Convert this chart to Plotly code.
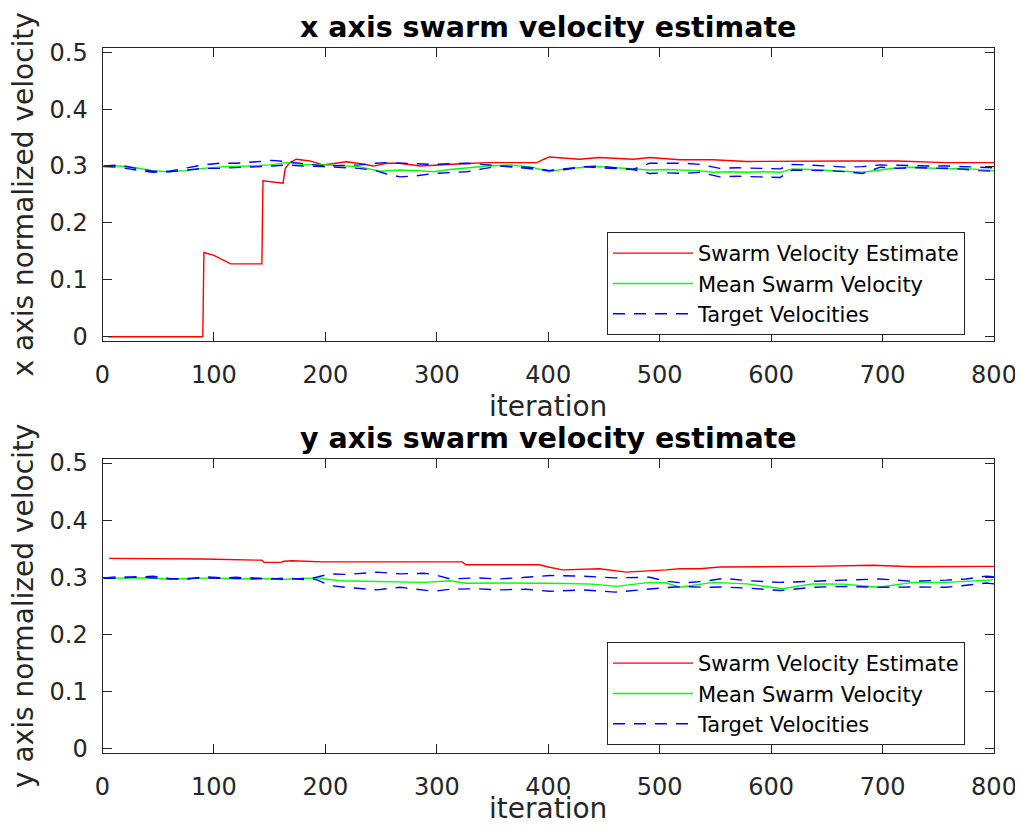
import plotly.graph_objects as go
from plotly.subplots import make_subplots

# ---------------- data ----------------
# top panel: x axis velocity
x_est_iter = [5, 90, 91, 100, 115, 143, 144, 162, 164, 168,
              174, 186, 198, 210, 219, 232, 243, 255, 267, 285,
              300, 323, 345, 370, 390, 396, 401, 428, 446, 476,
              491, 518, 548, 578, 623, 668, 713, 757, 800]
x_est_val = [0, 0, 0.148, 0.143, 0.128, 0.128, 0.274, 0.270, 0.296, 0.306,
             0.312, 0.309, 0.302, 0.305, 0.3075, 0.304, 0.300, 0.305, 0.305, 0.300,
             0.302, 0.304, 0.306, 0.306, 0.306, 0.312, 0.316, 0.312, 0.315, 0.312,
             0.315, 0.311, 0.311, 0.308, 0.309, 0.309, 0.309, 0.306, 0.306]

x_mean_iter = [1, 15, 30, 45, 58, 75, 90, 110, 130, 150,
               165, 180, 200, 215, 230, 249, 267, 282, 297, 312,
               327, 345, 366, 385, 401, 415, 432, 446, 461, 476,
               491, 506, 521, 535, 548, 563, 578, 593, 608, 619,
               635, 652, 668, 682, 698, 713, 728, 743, 757, 772,
               786, 800]
x_mean_val = [0.300, 0.300, 0.297, 0.292, 0.290, 0.292, 0.296, 0.299, 0.300, 0.302,
              0.306, 0.303, 0.302, 0.301, 0.299, 0.291, 0.293, 0.292, 0.290, 0.294,
              0.297, 0.300, 0.302, 0.298, 0.290, 0.295, 0.298, 0.299, 0.297, 0.295,
              0.293, 0.294, 0.293, 0.292, 0.289, 0.290, 0.289, 0.290, 0.289, 0.295,
              0.294, 0.292, 0.291, 0.289, 0.293, 0.297, 0.298, 0.297, 0.295, 0.296,
              0.294, 0.292]

x_tgt_iter = [1, 15, 30, 45, 60, 75, 90, 105, 120, 135,
              152, 165, 180, 198, 215, 230, 245, 255, 267, 282,
              297, 312, 327, 341, 356, 371, 386, 401, 416, 432,
              446, 461, 476, 491, 506, 521, 536, 554, 570, 590,
              608, 619, 635, 652, 668, 682, 698, 713, 728, 743,
              760, 775, 786, 800]
x_tgt1_val = [0.300, 0.302, 0.296, 0.291, 0.291, 0.296, 0.302, 0.305, 0.305, 0.307,
              0.310, 0.308, 0.304, 0.300, 0.301, 0.302, 0.305, 0.306, 0.305, 0.304,
              0.303, 0.304, 0.305, 0.303, 0.300, 0.299, 0.297, 0.292, 0.296, 0.299,
              0.300, 0.297, 0.294, 0.305, 0.305, 0.305, 0.303, 0.296, 0.297, 0.296,
              0.295, 0.303, 0.302, 0.300, 0.298, 0.299, 0.302, 0.301, 0.300, 0.300,
              0.300, 0.299, 0.297, 0.297]
x_tgt2_val = [0.299, 0.298, 0.293, 0.289, 0.290, 0.293, 0.296, 0.296, 0.297, 0.299,
              0.300, 0.302, 0.300, 0.299, 0.298, 0.296, 0.292, 0.286, 0.281, 0.283,
              0.287, 0.289, 0.290, 0.295, 0.300, 0.298, 0.295, 0.292, 0.294, 0.299,
              0.297, 0.296, 0.294, 0.287, 0.288, 0.287, 0.289, 0.281, 0.282, 0.281,
              0.280, 0.293, 0.293, 0.292, 0.290, 0.287, 0.298, 0.296, 0.297, 0.297,
              0.296, 0.294, 0.292, 0.291]

# bottom panel: y axis velocity
y_est_iter = [6, 90, 138, 143, 145, 160, 163, 170, 198, 250,
              294, 323, 326, 392, 400, 413, 446, 470, 506, 518,
              536, 554, 637, 691, 727, 800]
y_est_val = [0.333, 0.332, 0.330, 0.330, 0.326, 0.326, 0.328, 0.329, 0.327, 0.327,
             0.326, 0.327, 0.322, 0.322, 0.318, 0.313, 0.315, 0.309, 0.313, 0.315,
             0.315, 0.318, 0.319, 0.321, 0.3185, 0.319]

y_mean_iter = [1, 20, 40, 60, 80, 100, 120, 140, 160, 180,
               192, 213, 240, 267, 288, 312, 326, 360, 390, 416,
               440, 461, 491, 506, 518, 548, 578, 610, 637, 665,
               697, 727, 757, 780, 799]
y_mean_val = [0.298, 0.298, 0.299, 0.297, 0.298, 0.299, 0.297, 0.298, 0.296, 0.298,
              0.299, 0.294, 0.293, 0.293, 0.291, 0.294, 0.2895, 0.290, 0.290, 0.289,
              0.288, 0.284, 0.291, 0.290, 0.2825, 0.291, 0.2885, 0.280, 0.2885, 0.288,
              0.2825, 0.291, 0.291, 0.293, 0.2955]

y_tgt_iter = [1, 15, 30, 45, 60, 75, 90, 105, 120, 135,
              150, 165, 180, 192, 204, 220, 246, 267, 288, 297,
              312, 335, 356, 380, 401, 431, 460, 491, 506, 521,
              540, 557, 580, 608, 637, 665, 697, 727, 757, 775,
              793, 800]
y_tgt1_val = [0.299, 0.301, 0.300, 0.302, 0.298, 0.296, 0.301, 0.300, 0.298, 0.299,
              0.297, 0.299, 0.296, 0.300, 0.306, 0.305, 0.309, 0.306, 0.307, 0.305,
              0.297, 0.299, 0.297, 0.300, 0.303, 0.302, 0.299, 0.300, 0.293, 0.290,
              0.293, 0.298, 0.294, 0.291, 0.2925, 0.295, 0.297, 0.293, 0.295, 0.297,
              0.302, 0.301]
y_tgt2_val = [0.298, 0.298, 0.301, 0.299, 0.297, 0.298, 0.299, 0.298, 0.300, 0.297,
              0.298, 0.296, 0.298, 0.296, 0.2855, 0.282, 0.278, 0.2825, 0.277, 0.2755,
              0.279, 0.280, 0.278, 0.279, 0.2755, 0.278, 0.274, 0.280, 0.282, 0.2837,
              0.2825, 0.283, 0.281, 0.2768, 0.2825, 0.284, 0.2825, 0.283, 0.2825, 0.286,
              0.290, 0.2885]

titles = ["x axis swarm velocity estimate", "y axis swarm velocity estimate"]
ylabels = ["x axis normalized velocity", "y axis normalized velocity"]
xlabel = "iteration"
legend_names = ["Swarm Velocity Estimate", "Mean Swarm Velocity", "Target Velocities"]
x_ticks = [0, 100, 200, 300, 400, 500, 600, 700, 800]
y_ticks = [0, 0.1, 0.2, 0.3, 0.4, 0.5]
y_tick_text = ["0", "0.1", "0.2", "0.3", "0.4", "0.5"]

# ---------------- figure ----------------
# the page keeps the browser's 8px body margin; the figure starts at (8, 8)
OFF = 8
W, H = 1015, 816
FONT = "DejaVu Sans"
AX = "#262626"


def px(x):
    return (x - OFF) / W


def py(y):
    return 1 - (y - OFF) / H


fig = make_subplots(rows=2, cols=1)

panels = [
    (x_est_iter, x_est_val, x_mean_iter, x_mean_val, x_tgt_iter, x_tgt1_val, x_tgt2_val, "legend"),
    (y_est_iter, y_est_val, y_mean_iter, y_mean_val, y_tgt_iter, y_tgt1_val, y_tgt2_val, "legend2"),
]
for i, (ei, ev, mi, mv, ti, t1, t2, lg) in enumerate(panels):
    r = i + 1
    fig.add_trace(go.Scatter(x=ei, y=ev, mode="lines", name=legend_names[0], legend=lg,
                             line=dict(color="#ff0000", width=1.4)), row=r, col=1)
    fig.add_trace(go.Scatter(x=mi, y=mv, mode="lines", name=legend_names[1], legend=lg,
                             line=dict(color="#00ff00", width=1.4)), row=r, col=1)
    fig.add_trace(go.Scatter(x=ti, y=t1, mode="lines", name=legend_names[2], legend=lg,
                             line=dict(color="#0000ff", width=1.4, dash="12px,9px")), row=r, col=1)
    fig.add_trace(go.Scatter(x=ti, y=t2, mode="lines", name=legend_names[2], legend=lg,
                             showlegend=False,
                             line=dict(color="#0000ff", width=1.4, dash="12px,9px")), row=r, col=1)

xdom = [px(102.5), px(994.0)]
ydoms = [[py(340.7), py(48.3)], [py(752.7), py(459.0)]]

axis_common = dict(
    showline=True, linecolor=AX, linewidth=1, mirror="ticks",
    ticks="inside", ticklen=9, tickwidth=1, tickcolor=AX,
    showgrid=False, zeroline=False, automargin=False, ticklabeloverflow="allow",
    tickfont=dict(family=FONT, size=24, color=AX),
)
for i in range(2):
    xa = "xaxis" if i == 0 else "xaxis2"
    ya = "yaxis" if i == 0 else "yaxis2"
    fig.layout[xa].update(domain=xdom, range=[0, 800], tickvals=x_ticks,
                          ticklabelstandoff=12, **axis_common)
    fig.layout[ya].update(domain=ydoms[i], range=[-0.007, 0.507], tickvals=y_ticks,
                          ticktext=y_tick_text, ticklabelstandoff=9, **axis_common)

ann = []
title_y = [py(27.0), py(438.5)]
xlab_y = [py(406.0), py(808.0)]
ylab_y = [py(194.5), py(606.0)]
for i in range(2):
    ann.append(dict(text="<b>" + titles[i] + "</b>", x=(xdom[0] + xdom[1]) / 2, y=title_y[i],
                    xref="paper", yref="paper", showarrow=False, xanchor="center", yanchor="middle",
                    font=dict(family=FONT, size=28.5, color="#000000")))
    ann.append(dict(text=xlabel, x=(xdom[0] + xdom[1]) / 2, y=xlab_y[i],
                    xref="paper", yref="paper", showarrow=False, xanchor="center", yanchor="middle",
                    font=dict(family=FONT, size=28, color=AX)))
    ann.append(dict(text=ylabels[i], x=px(23.0), y=ylab_y[i], textangle=-90,
                    xref="paper", yref="paper", showarrow=False, xanchor="center", yanchor="middle",
                    font=dict(family=FONT, size=28, color=AX)))

legend_style = dict(
    bgcolor="white", bordercolor=AX, borderwidth=1,
    font=dict(family=FONT, size=21, color="#000000"),
    xanchor="left", yanchor="top", x=px(607.0), itemwidth=80,
    tracegroupgap=0,
)
fig.update_layout(
    width=W, height=H,
    margin=dict(l=0, r=0, t=0, b=0, autoexpand=False),
    paper_bgcolor="white", plot_bgcolor="white",
    annotations=ann,
    legend=dict(y=py(232.0), **legend_style),
    legend2=dict(y=py(642.0), **legend_style),
)

fig.write_html("out.html", config={"displayModeBar": False})
